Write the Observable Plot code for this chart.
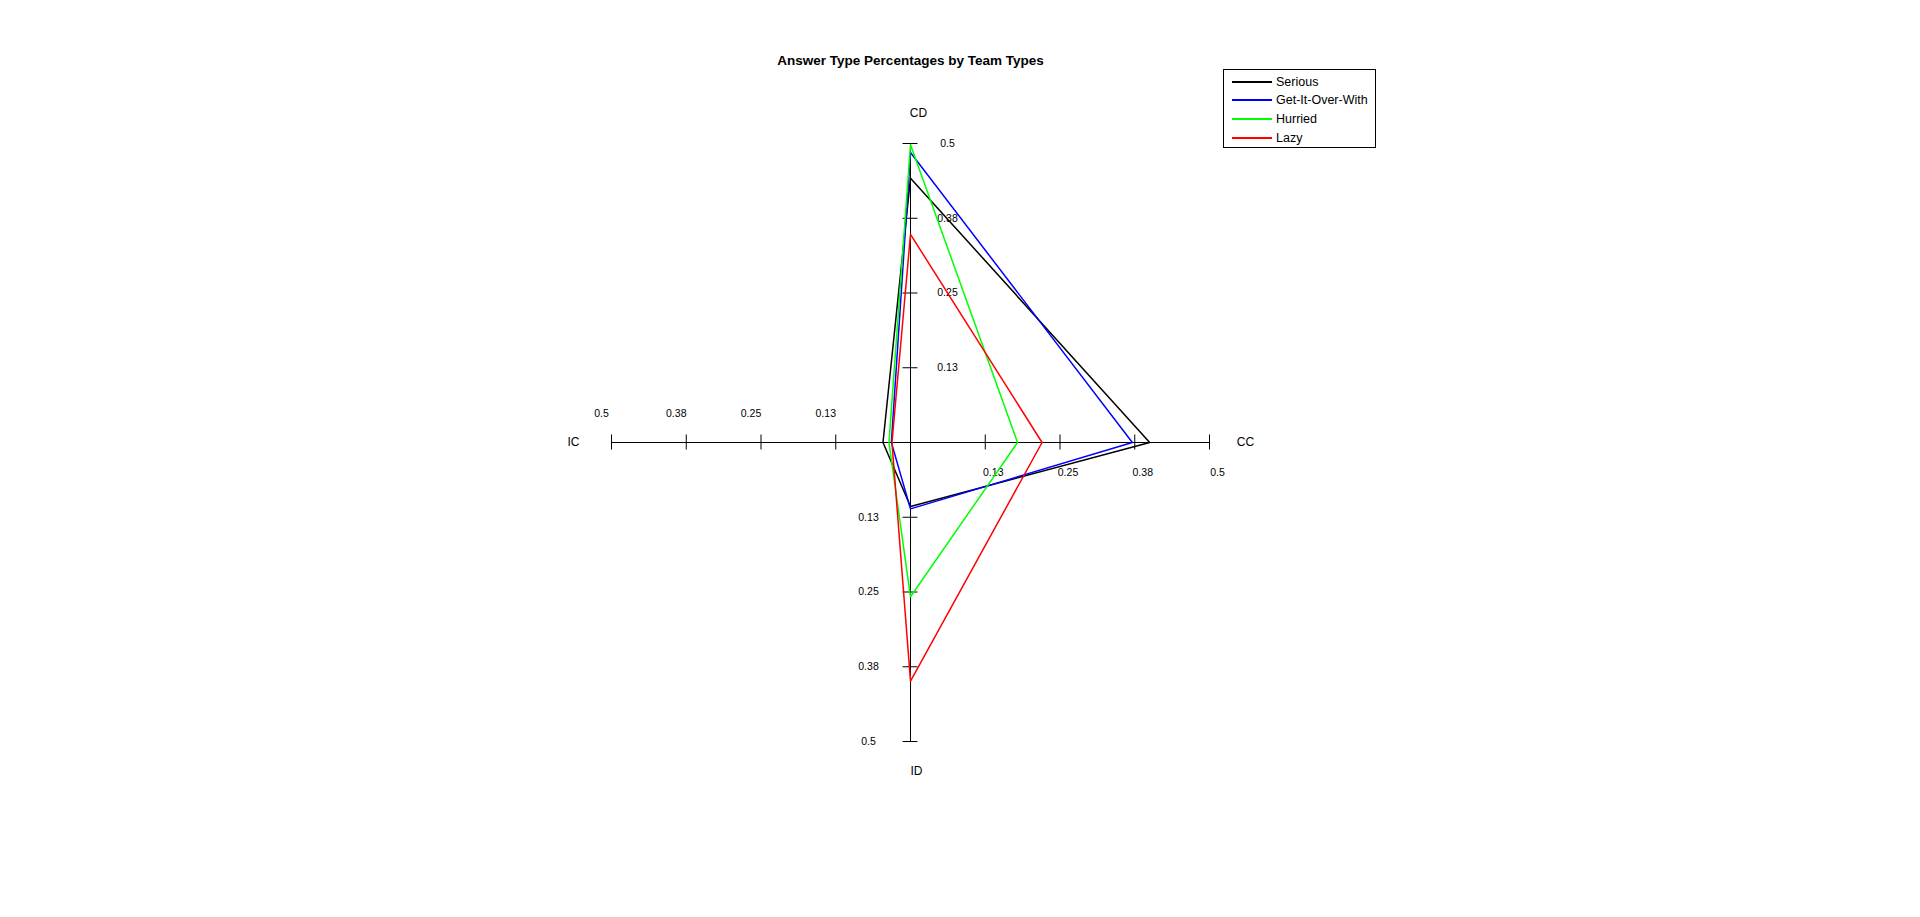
<!DOCTYPE html>
<html>
<head>
<meta charset="utf-8">
<script src="https://cdn.jsdelivr.net/npm/d3@7"></script>
<script src="https://cdn.jsdelivr.net/npm/@observablehq/plot@0.6"></script>
<style>
  html, body { margin: 0; padding: 0; background: #fff; }
  #wrap { position: relative; width: 1920px; height: 917px; overflow: hidden; font-family: "Liberation Sans", Arial, sans-serif; }
  #legend { position: absolute; left: 1223px; top: 69px; width: 151px; height: 77px; border: 1px solid #000; background: #fff; }
  .row { position: absolute; left: 0; height: 18px; display: flex; align-items: center; font-size: 12.5px; color: #000; }
  .sw { display: inline-block; width: 40px; height: 2px; margin-left: 8px; margin-right: 4px; }
</style>
</head>
<body>
<div id="wrap"></div>
<script>
// ---- data ----
const axisNames = ["CD", "CC", "ID", "IC"];
const seriesNames = ["Serious", "Get-It-Over-With", "Hurried", "Lazy"];
const seriousValues = [0.442, 0.400, 0.107, 0.046];
const getItOverWithValues = [0.485, 0.371, 0.111, 0.032];
const hurriedValues = [0.498, 0.179, 0.258, 0.036];
const lazyValues = [0.348, 0.220, 0.399, 0.031];
const tickValues = [0.125, 0.25, 0.375, 0.5];
const tickLabels = ["0.13", "0.25", "0.38", "0.5"];
const seriesColors = ["#000000", "#0000ff", "#00ff00", "#ff0000"];
const titleText = "Answer Type Percentages by Team Types";

// ---- axis directions (unit vectors) and label placement ----
const axisDefs = [
  { ux: 0, uy: 1,  nameDx: 8,   nameDy: -30, tickDx: 37,  tickDy: 0 },   // CD (up)
  { ux: 1, uy: 0,  nameDx: 36,  nameDy: 0,   tickDx: 8,   tickDy: 30 },  // CC (right)
  { ux: 0, uy: -1, nameDx: 6,   nameDy: 30,  tickDx: -42, tickDy: 0 },   // ID (down)
  { ux: -1, uy: 0, nameDx: -38, nameDy: 0,   tickDx: -10, tickDy: -29 }  // IC (left)
];

const allValues = [seriousValues, getItOverWithValues, hurriedValues, lazyValues];
const polyData = [];
allValues.forEach((vals, s) => {
  vals.forEach((v, i) => {
    polyData.push({ series: seriesNames[s], x: v * axisDefs[i].ux, y: v * axisDefs[i].uy });
  });
});

const tickLen = 0.0125;
const marks = [];

// axis lines
marks.push(Plot.ruleY([0], { x1: -0.5, x2: 0.5, stroke: "#000", strokeWidth: 1 }));
marks.push(Plot.ruleX([0], { y1: -0.5, y2: 0.5, stroke: "#000", strokeWidth: 1 }));

axisDefs.forEach((a, i) => {
  const tks = tickValues.map((t, k) => ({ t, label: tickLabels[k] }));
  // tick marks
  if (a.ux !== 0) {
    marks.push(Plot.ruleX(tks, { x: d => d.t * a.ux, y1: -tickLen, y2: tickLen, stroke: "#000" }));
  } else {
    marks.push(Plot.ruleY(tks, { y: d => d.t * a.uy, x1: -tickLen, x2: tickLen, stroke: "#000" }));
  }
  // tick labels
  marks.push(Plot.text(tks, {
    x: d => d.t * a.ux, y: d => d.t * a.uy, text: d => d.label,
    dx: a.tickDx, dy: a.tickDy, fontSize: 10.5, fill: "#000", textAnchor: "middle"
  }));
  // axis name
  marks.push(Plot.text([axisNames[i]], {
    x: () => 0.5 * a.ux, y: () => 0.5 * a.uy, text: d => d,
    dx: a.nameDx, dy: a.nameDy, fontSize: 12, fill: "#000", textAnchor: "middle"
  }));
});

// polygons
marks.push(Plot.line(polyData, {
  x: "x", y: "y", z: "series", stroke: "series", curve: "linear-closed", strokeWidth: 1.5
}));

// title
marks.push(Plot.text([titleText], {
  frameAnchor: "top", text: d => d, dy: -88, fontWeight: "bold", fontSize: 13.5, fill: "#000"
}));

const chart = Plot.plot({
  width: 1920,
  height: 917,
  marginLeft: 611,
  marginRight: 711,
  marginTop: 143,
  marginBottom: 176,
  x: { domain: [-0.5, 0.5], axis: null },
  y: { domain: [-0.5, 0.5], axis: null },
  color: { domain: seriesNames, range: seriesColors },
  style: { fontFamily: "'Liberation Sans', Arial, sans-serif", background: "#fff", overflow: "visible" },
  marks
});

const wrap = document.getElementById("wrap");
wrap.appendChild(chart);

// legend
const legend = document.createElement("div");
legend.id = "legend";
const rowTops = [2.5, 21.2, 39.5, 58.5];
seriesNames.forEach((name, i) => {
  const row = document.createElement("div");
  row.className = "row";
  row.style.top = rowTops[i] + "px";
  const sw = document.createElement("span");
  sw.className = "sw";
  sw.style.background = seriesColors[i];
  const lb = document.createElement("span");
  lb.textContent = name;
  row.appendChild(sw);
  row.appendChild(lb);
  legend.appendChild(row);
});
wrap.appendChild(legend);
</script>
</body>
</html>
